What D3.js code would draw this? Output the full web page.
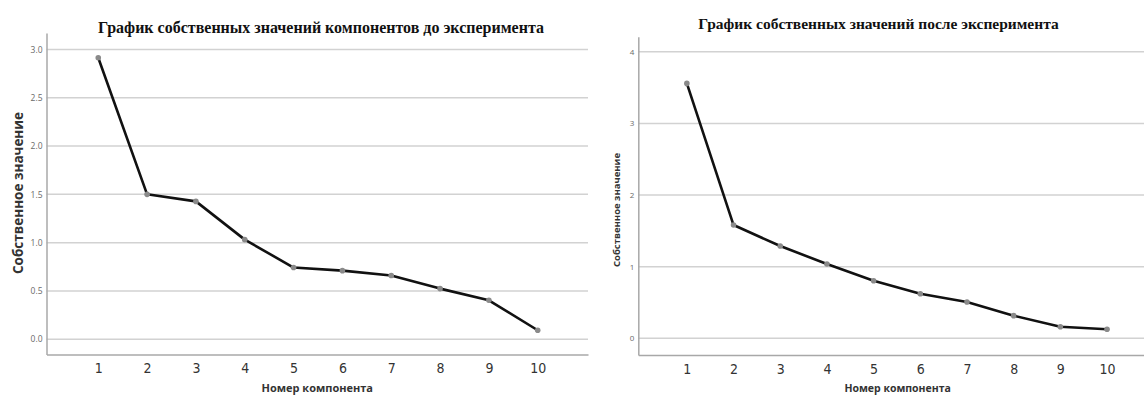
<!DOCTYPE html>
<html>
<head>
<meta charset="utf-8">
<script src="https://cdn.jsdelivr.net/npm/d3@7"></script>
<style>
  html, body { margin: 0; padding: 0; background: #fff; }
  svg { display: block; }
</style>
</head>
<body>
<svg id="chart" width="1144" height="396"></svg>
<script>
// ---- Data ----
const components = [1, 2, 3, 4, 5, 6, 7, 8, 9, 10];
const eigenBefore = [2.914, 1.50, 1.427, 1.031, 0.742, 0.71, 0.659, 0.524, 0.403, 0.093];
const eigenAfter  = [3.558, 1.581, 1.288, 1.037, 0.804, 0.623, 0.507, 0.316, 0.162, 0.126];
const yTicksBefore = [0, 0.5, 1.0, 1.5, 2.0, 2.5, 3.0];
const yTicksAfter  = [0, 1, 2, 3, 4];
const titleBefore = "График собственных значений компонентов до эксперимента";
const titleAfter  = "График собственных значений после эксперимента";
const xTitle = "Номер компонента";
const yTitle = "Собственное значение";

const svg = d3.select("#chart");

function drawPanel(cfg) {
  const g = svg.append("g");
  const x = d3.scaleLinear().domain(cfg.xDomain).range([cfg.left, cfg.right]);
  const y = d3.scaleLinear().domain(cfg.yDomain).range([cfg.bottom, cfg.top]);

  // gridlines
  g.append("g").selectAll("line").data(cfg.yTicks).join("line")
    .attr("x1", cfg.left).attr("x2", cfg.right)
    .attr("y1", d => y(d)).attr("y2", d => y(d))
    .attr("stroke", "#d2d2d2").attr("stroke-width", 1.5);

  // y axis
  const yAxis = d3.axisLeft(y).tickValues(cfg.yTicks).tickFormat(cfg.yFormat).tickSize(0).tickPadding(cfg.yPad);
  const ya = g.append("g").attr("transform", `translate(${cfg.left},0)`).call(yAxis);
  ya.select(".domain").attr("stroke", "#a8a8a8").attr("stroke-width", 1.5);
  ya.selectAll("text").attr("font-family", "'Open Sans', 'DejaVu Sans Condensed', sans-serif")
    .attr("font-size", cfg.yTickSize).attr("fill", "#6a6a6a");

  // x axis
  const xAxis = d3.axisBottom(x).tickValues(components).tickFormat(d3.format("d")).tickSize(0).tickPadding(9);
  const xa = g.append("g").attr("transform", `translate(0,${cfg.bottom})`).call(xAxis);
  xa.select(".domain").attr("stroke", "#a8a8a8").attr("stroke-width", 1.5);
  xa.selectAll("text").attr("font-family", "'DejaVu Sans Condensed', 'Liberation Sans Narrow', sans-serif")
    .attr("font-size", 14).attr("fill", "#333").attr("font-weight", 300);

  // line
  const line = d3.line().x((d, i) => x(components[i])).y(d => y(d));
  g.append("path").datum(cfg.values).attr("d", line)
    .attr("fill", "none").attr("stroke", "#111").attr("stroke-width", 2.6)
    .attr("stroke-linejoin", "round");

  g.append("g").selectAll("circle").data(cfg.values).join("circle")
    .attr("cx", (d, i) => x(components[i])).attr("cy", d => y(d))
    .attr("r", 2.8).attr("fill", "#8a8a8a");

  // title
  g.append("text").attr("x", cfg.titleX).attr("y", cfg.titleY)
    .attr("text-anchor", "middle")
    .attr("font-family", "'Liberation Serif', 'Times New Roman', serif")
    .attr("font-weight", "bold").attr("font-size", cfg.titleSize).attr("fill", "#111")
    .text(cfg.title);

  // x title
  g.append("text").attr("x", (cfg.left + cfg.right) / 2).attr("y", 392)
    .attr("text-anchor", "middle")
    .attr("font-family", "'Open Sans', sans-serif").attr("font-weight", "bold")
    .attr("font-size", cfg.xTitleSize).attr("fill", "#333")
    .text(xTitle);

  // y title
  g.append("text").attr("transform", `translate(${cfg.yTitleX},${cfg.yTitleY}) rotate(-90)`)
    .attr("text-anchor", "middle").attr("dominant-baseline", "central")
    .attr("font-family", "'Open Sans', sans-serif").attr("font-weight", "bold")
    .attr("font-size", cfg.yTitleSize).attr("fill", "#333")
    .text(yTitle);
}

drawPanel({
  values: eigenBefore, yTicks: yTicksBefore, yFormat: d3.format(".1f"),
  xDomain: [-0.06, 11.03], left: 46.5, right: 588,
  yDomain: [-0.158, 3.17], top: 33, bottom: 354.5,
  yPad: 4, yTickSize: 8.5,
  title: titleBefore, titleX: 321, titleY: 33, titleSize: 16,
  xTitleSize: 11, yTitleX: 18, yTitleY: 193, yTitleSize: 13.5
});

drawPanel({
  values: eigenAfter, yTicks: yTicksAfter, yFormat: d3.format("d"),
  xDomain: [-0.04, 11.07], left: 638.3, right: 1157,
  yDomain: [-0.233, 4.21], top: 36.7, bottom: 355,
  yPad: 4, yTickSize: 8,
  title: titleAfter, titleX: 878.5, titleY: 29, titleSize: 15.5,
  xTitleSize: 10.5, yTitleX: 616, yTitleY: 210, yTitleSize: 9.5
});
</script>
</body>
</html>
